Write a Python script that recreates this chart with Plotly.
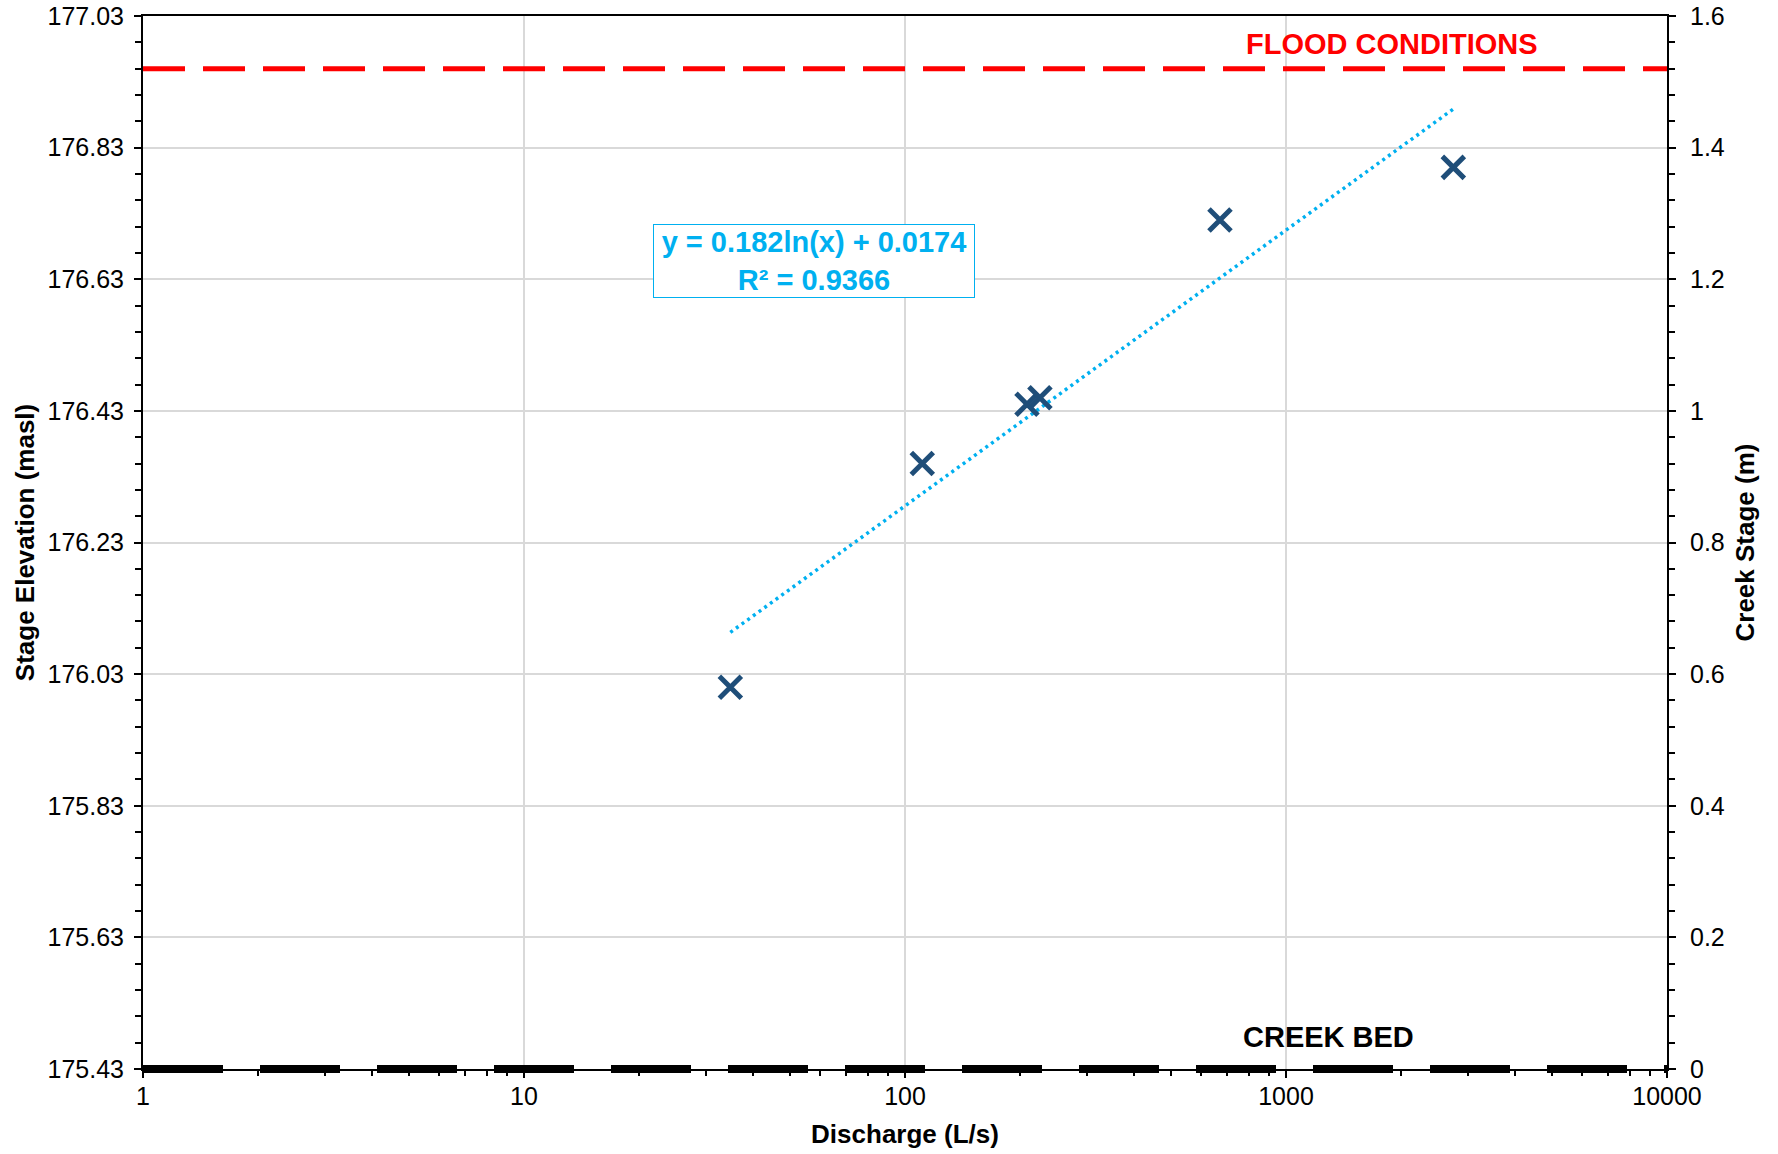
import numpy as np
import plotly.graph_objects as go

# ---- data ----
DISCHARGE = [34.8, 111.0, 209.0, 226.0, 671.0, 2749.0]        # L/s
CREEK_STAGE = [0.580, 0.920, 1.010, 1.020, 1.290, 1.370]       # m
TREND_A = 0.182      # y = a ln(x) + b
TREND_B = 0.0174
R_SQUARED = 0.9366
FLOOD_STAGE = 1.52
CREEK_BED_STAGE = 0.0
X_RANGE = [1, 10000]
STAGE_RANGE = [0.0, 1.6]
ELEV_RANGE = [175.43, 177.03]
X_TICKS = [1, 10, 100, 1000, 10000]
STAGE_TICKS = [0, 0.2, 0.4, 0.6, 0.8, 1, 1.2, 1.4, 1.6]
ELEV_TICKS = [175.43, 175.63, 175.83, 176.03, 176.23, 176.43, 176.63, 176.83, 177.03]
STAGE_TICK_TEXT = ["0", "0.2", "0.4", "0.6", "0.8", "1", "1.2", "1.4", "1.6"]
ELEV_TICK_TEXT = ["175.43", "175.63", "175.83", "176.03", "176.23", "176.43", "176.63", "176.83", "177.03"]
FLOOD_LABEL_X = 1900
BED_LABEL_X = 1289
EQ_LABEL_X = 57.7
EQ_LABEL_STAGE = 1.228

FONT = "Liberation Sans, Arial, sans-serif"
MARK_COLOR = "#1F4E79"
TREND_COLOR = "#00B0F0"

trend_x = [min(DISCHARGE), max(DISCHARGE)]
trend_y = [TREND_A * np.log(v) + TREND_B for v in trend_x]

fig = go.Figure()

fig.add_trace(go.Scatter(x=X_RANGE, y=ELEV_RANGE, yaxis="y", mode="none",
                         showlegend=False, hoverinfo="skip"))

# flood line
fig.add_trace(go.Scatter(x=X_RANGE, y=[FLOOD_STAGE, FLOOD_STAGE], yaxis="y2",
                         mode="lines", line=dict(color="#FF0000", width=5, dash="42px,18px"),
                         showlegend=False, hoverinfo="skip"))

# trendline
fig.add_trace(go.Scatter(x=trend_x, y=trend_y, yaxis="y2", mode="lines",
                         line=dict(color=TREND_COLOR, width=3.5, dash="3px,4px"),
                         showlegend=False))

# data points
fig.add_trace(go.Scatter(x=DISCHARGE, y=CREEK_STAGE, yaxis="y2", mode="markers",
                         marker=dict(symbol="x-thin", size=22, color=MARK_COLOR,
                                     line=dict(color=MARK_COLOR, width=5)),
                         showlegend=False, cliponaxis=False))

# creek bed line (x-clipped only so its full thickness shows)
bed_paper = (CREEK_BED_STAGE - STAGE_RANGE[0]) / (STAGE_RANGE[1] - STAGE_RANGE[0])
fig.add_shape(type="line", xref="x", yref="paper", x0=X_RANGE[0], x1=X_RANGE[1],
              y0=bed_paper, y1=bed_paper,
              line=dict(color="#000000", width=8, dash="80px,37px"))

fig.add_annotation(x=np.log10(FLOOD_LABEL_X), y=FLOOD_STAGE, xref="x", yref="y2",
                   text="<b>FLOOD CONDITIONS</b>", showarrow=False, yanchor="bottom",
                   yshift=7, font=dict(family=FONT, size=29, color="#FF0000"))
fig.add_annotation(x=np.log10(BED_LABEL_X), y=CREEK_BED_STAGE, xref="x", yref="y2",
                   text="<b>CREEK BED</b>", showarrow=False, yanchor="bottom",
                   yshift=14, font=dict(family=FONT, size=29, color="#000000"))
fig.add_annotation(x=np.log10(EQ_LABEL_X), y=EQ_LABEL_STAGE, xref="x", yref="y2",
                   text=f"<b>y = {TREND_A}ln(x) + {TREND_B}<br>R² = {R_SQUARED}</b>",
                   showarrow=False, align="center", valign="middle", bgcolor="#FFFFFF",
                   width=316, height=68,
                   bordercolor=TREND_COLOR, borderwidth=1, borderpad=2,
                   font=dict(family=FONT, size=29, color=TREND_COLOR))

tickfont = dict(family=FONT, size=25, color="#000000")
titlefont = dict(family=FONT, size=26, color="#000000")

fig.update_layout(
    width=1778, height=1154,
    margin=dict(l=143, r=111, t=16, b=85),
    plot_bgcolor="#FFFFFF", paper_bgcolor="#FFFFFF",
    showlegend=False,
    xaxis=dict(
        type="log", range=[np.log10(X_RANGE[0]), np.log10(X_RANGE[1])],
        tickmode="array", tickvals=X_TICKS, ticktext=[str(v) for v in X_TICKS],
        ticks="outside", ticklen=7, tickwidth=2, tickcolor="#000000",
        minor=dict(ticks="outside", ticklen=5, tickwidth=1.5, tickcolor="#000000",
                   dtick="D1", showgrid=False),
        showline=True, linecolor="#000000", linewidth=2, mirror=True,
        showgrid=True, gridcolor="#D9D9D9", gridwidth=1.5,
        tickfont=tickfont, ticklabelstandoff=-3, automargin=False,
        ticklabeloverflow="allow",
        title=dict(text="<b>Discharge (L/s)</b>", font=titlefont, standoff=16),
        zeroline=False,
    ),
    yaxis=dict(
        range=ELEV_RANGE, tickmode="array", tickvals=ELEV_TICKS, ticktext=ELEV_TICK_TEXT,
        ticks="outside", ticklen=7, tickwidth=2, tickcolor="#000000",
        minor=dict(ticks="outside", ticklen=6, tickwidth=1.5, tickcolor="#000000",
                   tick0=ELEV_RANGE[0], dtick=0.04, showgrid=False),
        showline=True, linecolor="#000000", linewidth=2,
        showgrid=True, gridcolor="#D9D9D9", gridwidth=1.5,
        tickfont=tickfont, ticklabelstandoff=5, automargin=False,
        ticklabeloverflow="allow",
        title=dict(text="<b>Stage Elevation (masl)</b>", font=titlefont, standoff=5),
        zeroline=False,
    ),
    yaxis2=dict(
        range=STAGE_RANGE, overlaying="y", side="right",
        tickmode="array", tickvals=STAGE_TICKS, ticktext=STAGE_TICK_TEXT,
        ticks="outside", ticklen=7, tickwidth=2, tickcolor="#000000",
        minor=dict(ticks="outside", ticklen=6, tickwidth=1.5, tickcolor="#000000",
                   tick0=0, dtick=0.04, showgrid=False),
        showline=True, linecolor="#000000", linewidth=2,
        showgrid=False, tickfont=tickfont, ticklabelstandoff=9, automargin=False,
        ticklabeloverflow="allow",
        title=dict(text="<b>Creek Stage (m)</b>", font=titlefont, standoff=12),
        zeroline=False,
    ),
)

fig.write_html("out.html", config={"displayModeBar": False},
               post_script="document.body.style.margin='0';")
